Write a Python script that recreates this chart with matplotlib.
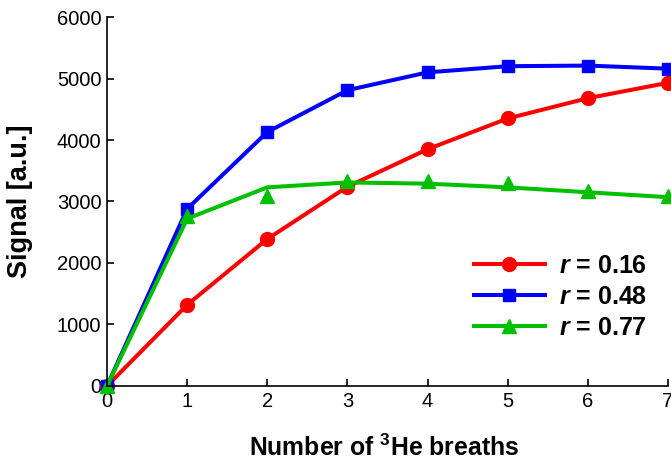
import matplotlib

matplotlib.use("Agg")
import matplotlib.pyplot as plt

plt.rcParams["font.family"] = ["Liberation Sans", "DejaVu Sans"]
plt.rcParams["mathtext.fontset"] = "custom"
plt.rcParams["mathtext.rm"] = "Liberation Sans:bold"
plt.rcParams["mathtext.it"] = "Liberation Sans:bold:italic"
plt.rcParams["mathtext.bf"] = "Liberation Sans:bold"

breaths = [0, 1, 2, 3, 4, 5, 6, 7]

# measured signal per flip-angle ratio
signal_016 = [0, 1320, 2390, 3240, 3850, 4350, 4680, 4930]
signal_048 = [0, 2880, 4130, 4810, 5100, 5200, 5210, 5160]
signal_077 = [0, 2760, 3090, 3340, 3340, 3300, 3170, 3090]
# model curve for r = 0.77
fit_077 = [0, 2720, 3230, 3310, 3290, 3230, 3150, 3070]

labels = ["$r$ = 0.16", "$r$ = 0.48", "$r$ = 0.77"]
red, blue, green = "#ff0000", "#0000ff", "#00c000"
lw = 2.9

fig = plt.figure(figsize=(6.71, 4.66), dpi=100)
ax = fig.add_axes([0.1595, 0.1717, 0.836, 0.7918])

ax.plot(breaths, signal_016, color=red, lw=lw, marker="o", ms=10,
        label=labels[0], clip_on=False)
ax.plot(breaths, signal_048, color=blue, lw=lw, marker="s", ms=8.5,
        label=labels[1], clip_on=False)
ax.plot(breaths, fit_077, color=green, lw=lw, clip_on=False)
ax.plot(breaths, signal_077, color=green, lw=0, marker="^", ms=10.5,
        clip_on=False)
# legend entry for the green series: line and marker together
ax.plot([], [], color=green, lw=lw, marker="^", ms=10.5, label=labels[2])

ax.set_xlim(0, 7)
ax.set_ylim(0, 6000)
ax.set_xticks(breaths)
ax.set_yticks(range(0, 6001, 1000))
ax.tick_params(direction="in", length=5, width=1.2, labelsize=14.5, pad=4)
for side in ("top", "right"):
    ax.spines[side].set_visible(False)
for side in ("left", "bottom"):
    ax.spines[side].set_linewidth(1.2)

ax.set_xlabel("Number of $^{3}$He breaths", fontsize=17.8, fontweight="bold")
ax.set_ylabel("Signal [a.u.]", fontsize=19.5, fontweight="bold")
ax.xaxis.set_label_coords(0.494, -0.133)
ax.yaxis.set_label_coords(-0.132, 0.5)

ax.legend(loc="center right", bbox_to_anchor=(0.9626, 0.241), frameon=False,
          prop={"size": 18, "weight": "bold"}, handlelength=2.84,
          handletextpad=0.56, labelspacing=0.28, borderpad=0,
          borderaxespad=0)

fig.savefig("out.png")
